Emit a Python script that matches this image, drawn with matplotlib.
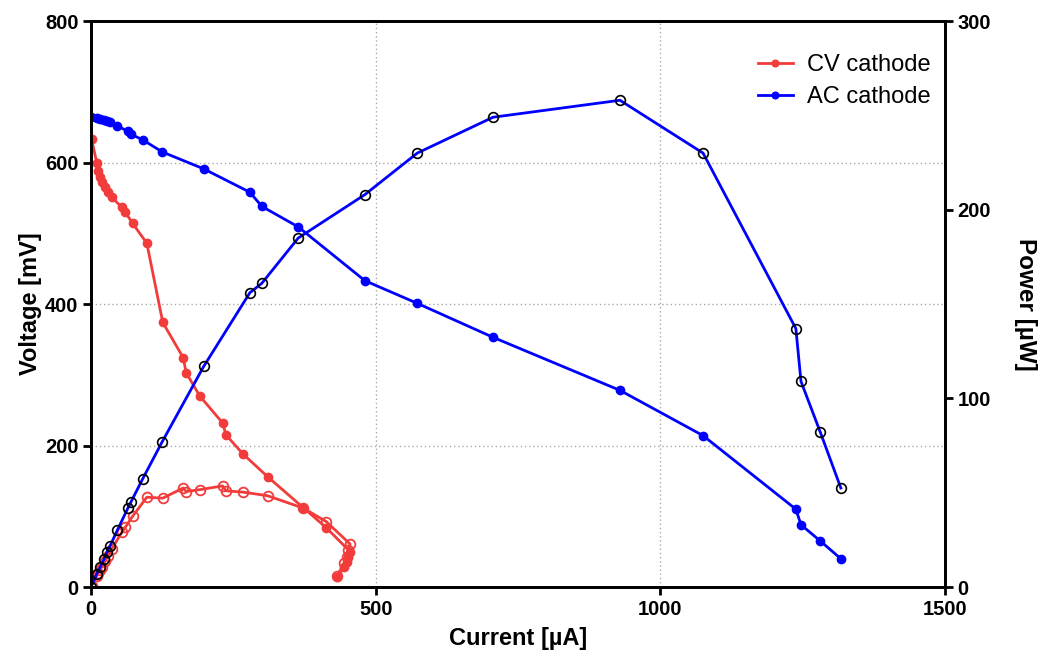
import matplotlib
matplotlib.use('Agg')
from matplotlib import pyplot as plt

plt.rcParams['font.family'] = ['Liberation Sans', 'DejaVu Sans']

# CV cathode
cv_current = [1, 10, 12, 16, 19, 25, 30, 36, 54, 60, 73, 98, 126, 162, 167, 191,
              231, 237, 267, 310, 373, 413, 455, 452, 449, 445, 432]
cv_voltage = [633, 600, 588, 579, 572, 565, 558, 551, 537, 530, 514, 486, 374, 324, 303, 270,
              232, 215, 188, 156, 112, 84, 50, 43, 35, 28, 14]
cv_power = [0.8, 6.0, 7.2, 9.1, 10.8, 13.9, 16.7, 20.0, 29.0, 31.6, 37.5, 47.6, 47.1, 52.5, 50.6, 51.6,
            53.6, 51.0, 50.3, 48.4, 41.8, 34.7, 22.8, 19.4, 15.7, 12.5, 6.0]

# AC cathode
ac_current = [0, 10, 16, 23, 28, 33, 46, 65, 70, 91, 125, 198, 279, 300, 364,
              481, 573, 706, 929, 1075, 1238, 1247, 1281, 1317]
ac_voltage = [664, 663, 661, 660, 658, 657, 652, 644, 640, 632, 615, 591, 558, 538, 509,
              433, 401, 353, 278, 214, 110, 88, 65, 40]
ac_power = [0, 7.0, 10.5, 15.0, 18.5, 21.5, 30.0, 42.0, 45.0, 57.5, 77.0, 117.0, 156.0, 161.0, 185.0,
            208.0, 230.0, 249.0, 258.0, 230.0, 137.0, 109.0, 82.0, 52.5]

red = '#f23c3c'
blue = '#0000ff'

fig = plt.figure(figsize=(10.44, 6.57), dpi=100)
ax = fig.add_axes([0.0872, 0.1065, 0.818, 0.8615])
ax2 = ax.twinx()

ax2.plot(cv_current, cv_power, color=red, lw=2, marker='o', ms=7, mfc='none', mec=red, mew=1.3)
ax2.plot(ac_current, ac_power, color=blue, lw=2, marker='o', ms=7, mfc='none', mec='black', mew=1.2)

l1, = ax.plot(cv_current, cv_voltage, color=red, lw=2, marker='o', ms=6, label='CV cathode')
l2, = ax.plot(ac_current, ac_voltage, color=blue, lw=2, marker='o', ms=6, label='AC cathode')

ax.set_xlim(0, 1500)
ax.set_ylim(0, 800)
ax2.set_ylim(0, 300)
ax.set_xticks([0, 500, 1000, 1500])
ax.set_yticks([0, 200, 400, 600, 800])
ax2.set_yticks([0, 100, 200, 300])

ax.grid(True, color='#aaaaaa', linestyle=(0, (1, 2)), linewidth=1)
ax.set_axisbelow(True)

for a in (ax, ax2):
    for s in a.spines.values():
        s.set_linewidth(2)
        s.set_color('black')
    a.tick_params(direction='out', length=6, width=2, labelsize=14.5, pad=3)
    for lab in a.get_xticklabels() + a.get_yticklabels():
        lab.set_fontweight('bold')

ax.set_xlabel('Current [µA]', fontsize=17, fontweight='bold', labelpad=6)
ax.set_ylabel('Voltage [mV]', fontsize=17, fontweight='bold', labelpad=2)
ax2.set_ylabel('Power [µW]', fontsize=17.5, fontweight='bold', rotation=270, labelpad=33)

ax2.legend([l1, l2], ['CV cathode', 'AC cathode'], loc='upper right', frameon=False,
           fontsize=17, handlelength=1.5, handletextpad=0.6, markerscale=0.8, labelspacing=0.45,
           borderaxespad=0.2, bbox_to_anchor=(1.0, 0.967))

fig.savefig('out.png', dpi=100)
